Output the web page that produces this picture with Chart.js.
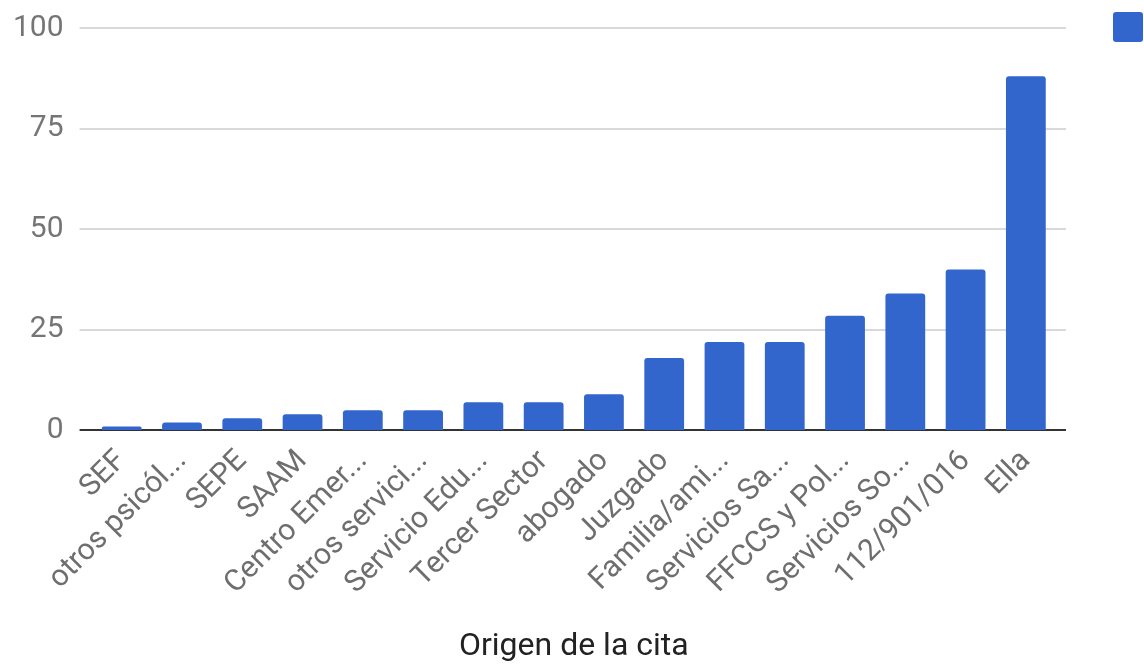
<!DOCTYPE html>
<html><head><meta charset="utf-8">
<script src="https://cdn.jsdelivr.net/npm/chart.js@4/dist/chart.umd.min.js"></script>
<style>html,body{margin:0;padding:0;background:#fff;}#wrap{width:1144px;height:666px;}</style>
</head><body><div id="wrap"><canvas id="c" width="1144" height="666"></canvas></div>
<script>
const categories = ["SEF","otros psicól...","SEPE","SAAM","Centro Emer...","otros servici...","Servicio Edu...","Tercer Sector","abogado","Juzgado","Familia/ami...","Servicios Sa...","FFCCS y Pol...","Servicios So...","112/901/016","Ella"];
const values = [1,2,3,4,5,5,7,7,9,18,22,22,28.5,34,40,88];
const yTicks = [0,25,50,75,100];

const gridPlugin = {
  id:'fullGrid',
  beforeDatasetsDraw(chart){
    const {ctx, chartArea, scales:{y}} = chart;
    ctx.save();
    yTicks.forEach(v=>{
      const py = Math.round(y.getPixelForValue(v));
      ctx.beginPath();
      ctx.strokeStyle = v===0 ? '#333333' : '#cccccc';
      ctx.lineWidth = v===0 ? 2 : 1.5;
      ctx.moveTo(chartArea.left-12, py);
      ctx.lineTo(chartArea.right+10, py);
      ctx.stroke();
    });
    ctx.restore();
  }
};

new Chart(document.getElementById('c'), {
  type:'bar',
  data:{labels:categories, datasets:[{label:'', data:values, backgroundColor:'#3366cc', borderRadius:{topLeft:3,topRight:3}, borderSkipped:'bottom', barPercentage:0.66, categoryPercentage:1.0}]},
  options:{
    responsive:false, animation:false,
    layout:{padding:{top:0,left:3,right:0,bottom:0}},
    plugins:{
      legend:{display:true, position:'right', align:'start', maxWidth:43,
        labels:{boxWidth:30, boxHeight:30, padding:12, font:{family:'Roboto', size:2}, useBorderRadius:true, borderRadius:3}},
      tooltip:{enabled:false}
    },
    scales:{
      x:{grid:{display:false, drawTicks:false}, border:{display:false},
        ticks:{color:'#6e6e6e', font:{family:'Roboto', size:30}, maxRotation:45, minRotation:45, autoSkip:false, padding:13},
        title:{display:true, text:'Origen de la cita', color:'#222222', font:{family:'Roboto', size:32}, padding:{top:13, bottom:0}}},
      y:{min:0, max:100, afterBuildTicks(s){s.ticks = yTicks.map(v=>({value:v}));},
        grid:{display:true, drawOnChartArea:false, drawTicks:true, tickLength:18, tickColor:'rgba(0,0,0,0)'}, border:{display:false},
        ticks:{color:'#757575', font:{family:'Roboto', size:30}, padding:10}},
      yR:{type:'linear', position:'right', display:true, grid:{display:false, drawTicks:false}, border:{display:false},
        ticks:{display:false}, afterFit(s){s.width = 45;}}
    }
  },
  plugins:[gridPlugin]
});
</script></body></html>
